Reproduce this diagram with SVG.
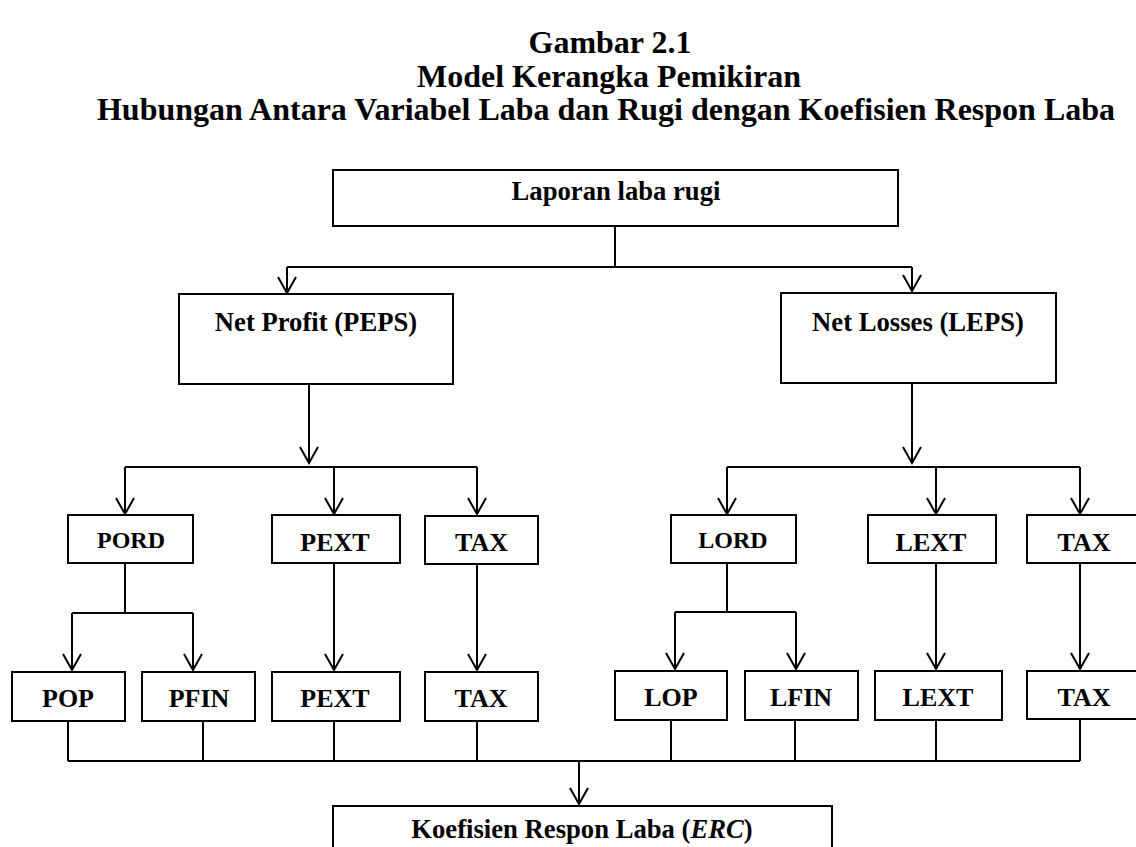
<svg xmlns="http://www.w3.org/2000/svg" width="1136" height="847" viewBox="0 0 1136 847">
<style>
.t{font-family:"Liberation Serif","Times New Roman",serif;font-weight:bold;fill:#000;text-anchor:middle}
.title{font-size:32px}
.lg{font-size:26.67px}
.md{font-size:26px}
.sm{font-size:24px}
.box{fill:#fff;stroke:#000;stroke-width:2}
.c{fill:none;stroke:#000;stroke-width:2}
</style>
<defs>
<marker id="v" markerUnits="userSpaceOnUse" markerWidth="24" markerHeight="20" viewBox="-12 -18 24 20" refX="0" refY="0" orient="0">
<path d="M-9,-16 L0,0 L9,-16" fill="none" stroke="#000" stroke-width="2"/>
</marker>
</defs>
<rect width="1136" height="847" fill="#fff"/>
<g id="title">
<text class="t title" x="610" y="53">Gambar 2.1</text>
<text class="t title" x="609" y="87">Model Kerangka Pemikiran</text>
<text class="t title" x="606" y="120">Hubungan Antara Variabel Laba dan Rugi dengan Koefisien Respon Laba</text>
</g>
<g id="connectors">
<path class="c" d="M615,226 V267 M287,267 H912"/>
<path class="c" d="M287,267 V293" marker-end="url(#v)"/>
<path class="c" d="M912,267 V291" marker-end="url(#v)"/>
<path class="c" d="M309,384 V463" marker-end="url(#v)"/>
<path class="c" d="M125,467 H477"/>
<path class="c" d="M125,467 V514" marker-end="url(#v)"/>
<path class="c" d="M334,467 V514" marker-end="url(#v)"/>
<path class="c" d="M477,467 V514" marker-end="url(#v)"/>
<path class="c" d="M912,383 V463" marker-end="url(#v)"/>
<path class="c" d="M727,467 H1080"/>
<path class="c" d="M727,467 V514" marker-end="url(#v)"/>
<path class="c" d="M936,467 V514" marker-end="url(#v)"/>
<path class="c" d="M1080,467 V514" marker-end="url(#v)"/>
<path class="c" d="M125,563 V613 M72,613 H193"/>
<path class="c" d="M72,613 V670" marker-end="url(#v)"/>
<path class="c" d="M193,613 V670" marker-end="url(#v)"/>
<path class="c" d="M334,563 V670" marker-end="url(#v)"/>
<path class="c" d="M477,564 V670" marker-end="url(#v)"/>
<path class="c" d="M727,563 V612 M675,612 H796"/>
<path class="c" d="M675,612 V669" marker-end="url(#v)"/>
<path class="c" d="M796,612 V669" marker-end="url(#v)"/>
<path class="c" d="M936,563 V669" marker-end="url(#v)"/>
<path class="c" d="M1080,563 V669" marker-end="url(#v)"/>
<path class="c" d="M68,721 V761 M203,721 V761 M334,721 V761 M477,721 V761 M671,720 V761 M795,720 V761 M936,720 V761 M1080,719 V761 M68,761 H1080"/>
<path class="c" d="M579,761 V804" marker-end="url(#v)"/>
</g>
<g id="n-laporan"><rect class="box" x="333" y="170" width="565" height="56"/><text class="t lg" x="616" y="200">Laporan laba rugi</text></g>
<g id="n-profit"><rect class="box" x="179" y="294" width="274" height="90"/><text class="t lg" x="316" y="331">Net Profit (PEPS)</text></g>
<g id="n-losses"><rect class="box" x="781" y="293" width="275" height="90"/><text class="t lg" x="918" y="331">Net Losses (LEPS)</text></g>
<g id="n-pord"><rect class="box" x="68" y="515" width="125" height="48"/><text class="t sm" x="131" y="548">PORD</text></g>
<g id="n-pext1"><rect class="box" x="272" y="515" width="128" height="48"/><text class="t md" x="335" y="551">PEXT</text></g>
<g id="n-tax1"><rect class="box" x="425" y="516" width="113" height="48"/><text class="t md" x="481.5" y="551">TAX</text></g>
<g id="n-lord"><rect class="box" x="671" y="515" width="125" height="48"/><text class="t sm" x="733" y="548">LORD</text></g>
<g id="n-lext1"><rect class="box" x="868" y="515" width="128" height="48"/><text class="t md" x="931" y="551">LEXT</text></g>
<g id="n-tax2"><rect class="box" x="1027" y="515" width="113" height="48"/><text class="t md" x="1084" y="551">TAX</text></g>
<g id="n-pop"><rect class="box" x="12" y="672" width="113" height="49"/><text class="t md" x="68" y="707">POP</text></g>
<g id="n-pfin"><rect class="box" x="142" y="672" width="113" height="49"/><text class="t md" x="199" y="707">PFIN</text></g>
<g id="n-pext2"><rect class="box" x="272" y="672" width="128" height="49"/><text class="t md" x="335" y="707">PEXT</text></g>
<g id="n-tax3"><rect class="box" x="425" y="672" width="113" height="49"/><text class="t md" x="481" y="707">TAX</text></g>
<g id="n-lop"><rect class="box" x="615" y="671" width="112" height="49"/><text class="t md" x="671" y="706">LOP</text></g>
<g id="n-lfin"><rect class="box" x="745" y="671" width="113" height="49"/><text class="t md" x="801" y="706">LFIN</text></g>
<g id="n-lext2"><rect class="box" x="875" y="671" width="127" height="49"/><text class="t md" x="938" y="706">LEXT</text></g>
<g id="n-tax4"><rect class="box" x="1027" y="671" width="113" height="48"/><text class="t md" x="1084" y="706">TAX</text></g>
<g id="n-erc"><rect class="box" x="333" y="806" width="499" height="60"/><text class="t lg" x="582" y="838">Koefisien Respon Laba (<tspan font-style="italic">ERC</tspan>)</text></g>
</svg>
